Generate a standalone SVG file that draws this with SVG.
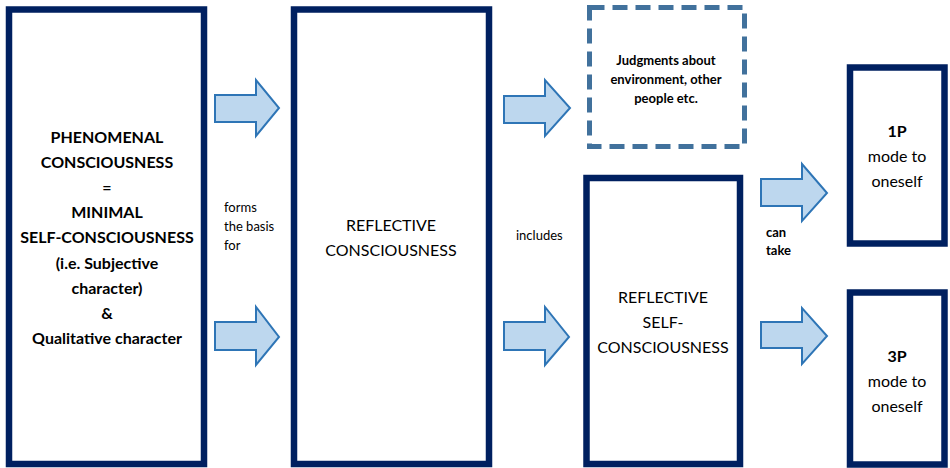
<svg xmlns="http://www.w3.org/2000/svg" width="950" height="468" viewBox="0 0 950 468">
<style>
.box{fill:#fff;stroke:#002060;stroke-width:6.5}
.dash{fill:#fff;stroke:#41719C;stroke-width:5;stroke-dasharray:15 8}
.arr{fill:#BDD7EE;stroke:#2E75B6;stroke-width:2;stroke-linejoin:miter}
.big{font-family:Lato,"Liberation Sans",sans-serif;font-size:16px;fill:#000;text-anchor:middle}
.b{font-weight:bold}
.sm{font-family:Lato,"Liberation Sans",sans-serif;font-size:13px;fill:#000}
</style>
<rect width="950" height="468" fill="#fff"/>
<g id="connectors">
<polygon class="arr" points="215,95 256,95 256,80 279,108 256,136 256,122 215,122"/>
<polygon class="arr" points="215,322 256,322 256,307 279,337 256,365 256,350 215,350"/>
<polygon class="arr" points="504,96 545,96 545,80 570,108 545,136 545,123 504,123"/>
<polygon class="arr" points="504,322 545,322 545,307 569,337 545,365 545,350 504,350"/>
<polygon class="arr" points="761,179 802,179 802,164 827,193 802,221 802,206 761,206"/>
<polygon class="arr" points="761,322 802,322 802,308 827,336 802,364 802,348 761,348"/>
<text class="sm" x="224" y="212">forms</text>
<text class="sm" x="224" y="231">the basis</text>
<text class="sm" x="224" y="250">for</text>
<text class="sm" x="516" y="240">includes</text>
<text class="sm b" x="766" y="237">can</text>
<text class="sm b" x="766" y="255">take</text>
</g>
<g id="phenomenal">
<rect class="box" x="9" y="9.5" width="195" height="454.5"/>
<text class="big b" x="107" y="143">PHENOMENAL</text>
<text class="big b" x="107" y="168">CONSCIOUSNESS</text>
<text class="big b" x="107" y="193">=</text>
<text class="big b" x="107" y="218">MINIMAL</text>
<text class="big b" x="107" y="243">SELF-CONSCIOUSNESS</text>
<text class="big b" x="107" y="269">(i.e. Subjective</text>
<text class="big b" x="107" y="294">character)</text>
<text class="big b" x="107" y="319">&amp;</text>
<text class="big b" x="107" y="344">Qualitative character</text>
</g>
<g id="reflective">
<rect class="box" x="294" y="9.5" width="195" height="454.5"/>
<text class="big" x="391" y="231">REFLECTIVE</text>
<text class="big" x="391" y="256">CONSCIOUSNESS</text>
</g>
<g id="judgments">
<rect class="dash" x="589.5" y="7.5" width="155" height="139"/>
<text class="sm b" x="666" y="65" text-anchor="middle">Judgments about</text>
<text class="sm b" x="666" y="84" text-anchor="middle">environment, other</text>
<text class="sm b" x="666" y="103" text-anchor="middle">people etc.</text>
</g>
<g id="reflective-self">
<rect class="box" x="586.5" y="178" width="153.5" height="286"/>
<text class="big" x="663" y="303">REFLECTIVE</text>
<text class="big" x="663" y="328">SELF-</text>
<text class="big" x="663" y="353">CONSCIOUSNESS</text>
</g>
<g id="first-person">
<rect class="box" x="850" y="67.5" width="94.5" height="176"/>
<text class="big b" x="897" y="137">1P</text>
<text class="big" x="897" y="162">mode to</text>
<text class="big" x="897" y="187">oneself</text>
</g>
<g id="third-person">
<rect class="box" x="850" y="292.5" width="94.5" height="172"/>
<text class="big b" x="897" y="362">3P</text>
<text class="big" x="897" y="387">mode to</text>
<text class="big" x="897" y="412">oneself</text>
</g>
</svg>
